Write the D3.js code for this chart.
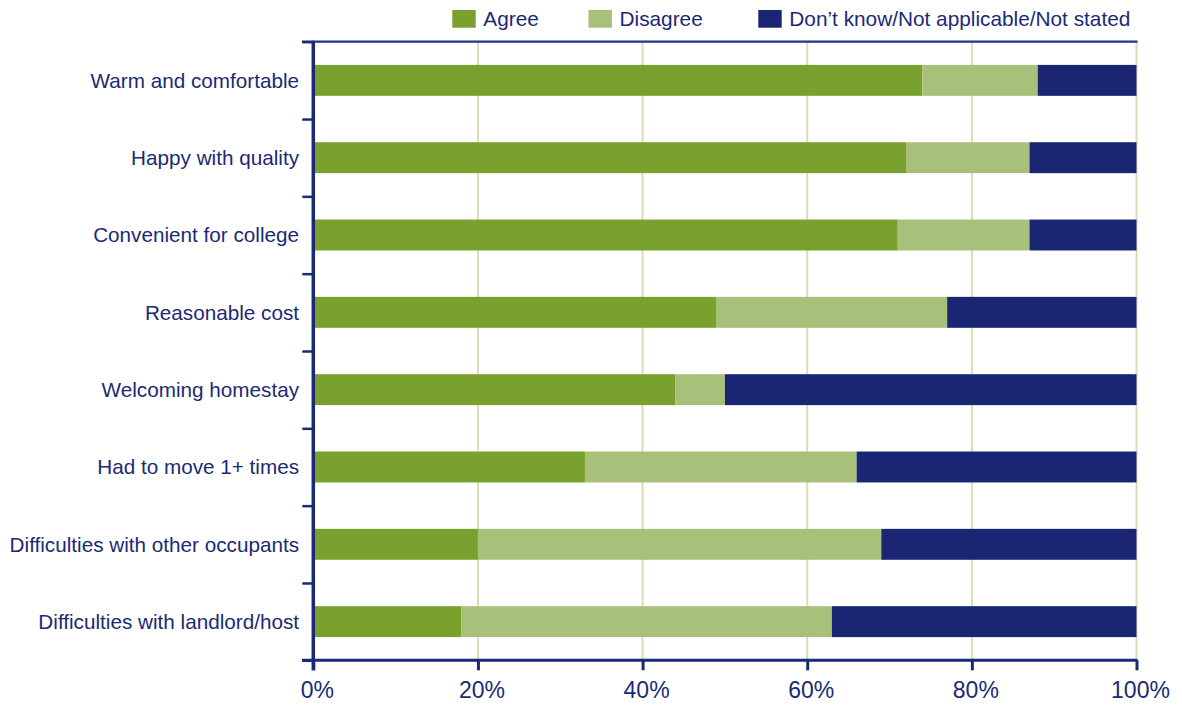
<!DOCTYPE html>
<html>
<head>
<meta charset="utf-8">
<script src="https://cdn.jsdelivr.net/npm/d3@7"></script>
<style>
  html, body { margin: 0; padding: 0; background: #ffffff; }
  svg { display: block; font-family: "Liberation Sans", Arial, Helvetica, sans-serif; }
</style>
</head>
<body>
<svg id="chart" width="1182" height="706"></svg>
<script>
// Survey statements, top to bottom
const categories = [
  "Warm and comfortable",
  "Happy with quality",
  "Convenient for college",
  "Reasonable cost",
  "Welcoming homestay",
  "Had to move 1+ times",
  "Difficulties with other occupants",
  "Difficulties with landlord/host"
];

// Percent of respondents per response
const agree    = [74, 72, 71, 49, 44, 33, 20, 18];
const disagree = [14, 15, 16, 28,  6, 33, 49, 45];
const dontKnow = [12, 13, 13, 23, 50, 34, 31, 37];

const seriesNames = ["Agree", "Disagree", "Don\u2019t know/Not applicable/Not stated"];
const seriesColors = ["#7aa12e", "#a7c07a", "#1a2674"];

const xTicks = [0, 20, 40, 60, 80, 100];

const navy = "#1b2a74";
const gridColor = "#d4dfb6";

const svg = d3.select("#chart");

const plotLeft = 313.3, plotRight = 1136.5, plotTop = 41.7, plotBottom = 660.3;

const x = d3.scaleLinear().domain([0, 100]).range([plotLeft, plotRight]);
const y = d3.scaleBand().domain(categories).range([plotTop, plotBottom])
  .paddingInner(0.6).paddingOuter(0.3);

// Stack the three response groups
const rows = categories.map((c, i) => ({
  category: c, Agree: agree[i], Disagree: disagree[i],
  [seriesNames[2]]: dontKnow[i]
}));
const stacked = d3.stack().keys(seriesNames)(rows);

// Vertical gridlines
svg.append("g")
  .selectAll("line")
  .data(xTicks.filter(d => d > 0))
  .join("line")
  .attr("x1", d => x(d)).attr("x2", d => x(d))
  .attr("y1", plotTop).attr("y2", plotBottom)
  .attr("stroke", gridColor).attr("stroke-width", 2);

// Bars
svg.append("g")
  .selectAll("g")
  .data(stacked)
  .join("g")
  .attr("fill", (d, i) => seriesColors[i])
  .selectAll("rect")
  .data(d => d)
  .join("rect")
  .attr("x", d => x(d[0]))
  .attr("width", d => x(d[1]) - x(d[0]))
  .attr("y", d => y(d.data.category))
  .attr("height", y.bandwidth());

// Top frame line
svg.append("line")
  .attr("x1", 302).attr("x2", plotRight + 1)
  .attr("y1", plotTop).attr("y2", plotTop)
  .attr("stroke", "#23338a").attr("stroke-width", 2.2);

// Left axis with ticks at band boundaries
const boundary = d3.scaleLinear().domain([0, categories.length]).range([plotTop, plotBottom]);
const yAxis = d3.axisLeft(boundary)
  .tickValues(d3.range(0, categories.length + 1))
  .tickSize(11)
  .tickFormat("");
const gy = svg.append("g").attr("transform", `translate(${plotLeft},0)`).call(yAxis);
gy.select(".domain").remove();
gy.selectAll(".tick line").attr("stroke", navy).attr("stroke-width", 2.5);
svg.append("line")
  .attr("x1", plotLeft).attr("x2", plotLeft)
  .attr("y1", plotTop - 1).attr("y2", plotBottom + 10)
  .attr("stroke", navy).attr("stroke-width", 3.5);

// Category labels
svg.append("g")
  .selectAll("text")
  .data(categories)
  .join("text")
  .attr("x", 299)
  .attr("y", d => y(d) + y.bandwidth() / 2)
  .attr("dy", "0.36em")
  .attr("text-anchor", "end")
  .attr("font-size", 20.7)
  .attr("fill", navy)
  .text(d => d);

// Bottom axis
const xAxis = d3.axisBottom(x)
  .tickValues(xTicks)
  .tickSize(10)
  .tickFormat("");
const gx = svg.append("g").attr("transform", `translate(0,${plotBottom})`).call(xAxis);
gx.select(".domain").remove();
gx.selectAll(".tick line").attr("stroke", navy).attr("stroke-width", 3);
svg.append("line")
  .attr("x1", 302).attr("x2", plotRight + 1)
  .attr("y1", plotBottom).attr("y2", plotBottom)
  .attr("stroke", navy).attr("stroke-width", 3);

svg.append("g")
  .selectAll("text")
  .data(xTicks)
  .join("text")
  .attr("x", d => x(d) + 4)
  .attr("y", 698)
  .attr("text-anchor", "middle")
  .attr("font-size", 23)
  .attr("fill", navy)
  .text(d => d + "%");

// Legend
const legendX = [452.3, 588.5, 758.3];
const legend = svg.append("g")
  .selectAll("g")
  .data(seriesNames)
  .join("g")
  .attr("transform", (d, i) => `translate(${legendX[i]},0)`);
legend.append("rect")
  .attr("x", 0).attr("y", 10)
  .attr("width", 23.4).attr("height", 17.7)
  .attr("fill", (d, i) => seriesColors[i]);
legend.append("text")
  .attr("x", 31).attr("y", 26)
  .attr("font-size", 20.8)
  .attr("fill", navy)
  .text(d => d);
</script>
</body>
</html>
